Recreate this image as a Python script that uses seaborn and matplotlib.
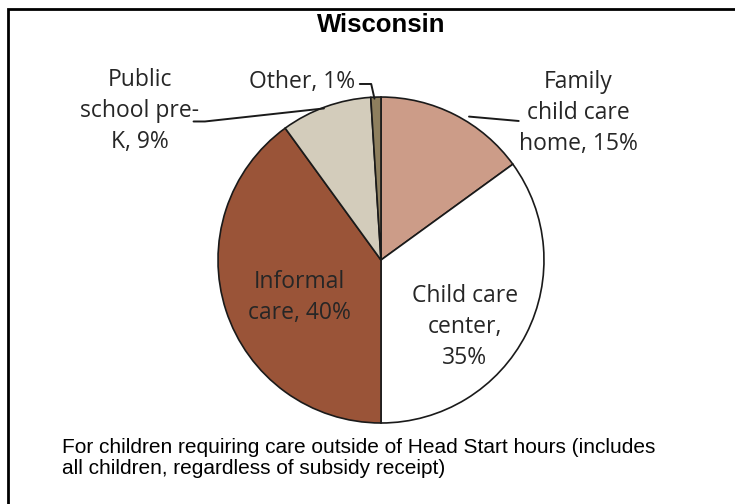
import matplotlib
matplotlib.use("Agg")
import matplotlib.pyplot as plt
import seaborn as sns
from matplotlib.patches import Rectangle

sns.set_theme(style="white")

# data
categories = ["Family child care home", "Child care center", "Informal care",
              "Public school pre-K", "Other"]
shares = [15, 35, 40, 9, 1]
label_texts = ["Family\nchild care\nhome, 15%", "Child care\ncenter,\n35%",
               "Informal\ncare, 40%", "Public\nschool pre-\nK, 9%", "Other, 1%"]
slice_colors = ["#CC9C88", "#FFFFFF", "#9A5438", "#D3CCBB", "#8E7F5E"]

fig = plt.figure(figsize=(7.35, 5.04), dpi=100)

# pie axes: centre ~ (381, 260) px, radius ~163 px
ax = fig.add_axes([0.2966, 0.1607, 0.4435, 0.6468])
ax.pie(shares, colors=slice_colors, startangle=90, counterclock=False,
       radius=1.0, wedgeprops=dict(edgecolor="#1a1a1a", linewidth=1.2))
ax.set_xlim(-1, 1)
ax.set_ylim(-1, 1)
ax.set_aspect("equal")
ax.axis("off")

lab_font = dict(family=["Open Sans", "DejaVu Sans"], fontsize=16.5, color="#262626")
ls = 1.38

# label positions in data units (radius = 1)
ax.text(1.21, 0.90, label_texts[0], ha="center", va="center", linespacing=ls,
        clip_on=False, **lab_font)
ax.text(0.515, -0.41, label_texts[1], ha="center", va="center", linespacing=ls,
        clip_on=False, **lab_font)
ax.text(-0.50, -0.23, label_texts[2], ha="center", va="center", linespacing=ls,
        clip_on=False, **lab_font)
ax.text(-1.48, 0.915, label_texts[3], ha="center", va="center", linespacing=ls,
        clip_on=False, **lab_font)
ax.text(-0.16, 1.09, label_texts[4], ha="right", va="center",
        clip_on=False, **lab_font)

# leader lines
line_kw = dict(color="#1a1a1a", linewidth=1.4, clip_on=False)
ax.plot([0.54, 0.845], [0.88, 0.853], **line_kw)
ax.plot([-1.15, -1.08, -0.35], [0.85, 0.85, 0.93], **line_kw)
ax.plot([-0.13, -0.06, -0.04], [1.08, 1.08, 0.99], **line_kw)

fig.text(0.518, 0.950, "Wisconsin", ha="center", va="center",
         family=["Liberation Sans", "DejaVu Sans"], fontsize=18.5, fontweight="bold",
         color="black")

fig.text(0.084, 0.091,
         "For children requiring care outside of Head Start hours (includes\n"
         "all children, regardless of subsidy receipt)",
         ha="left", va="center", family=["Liberation Sans", "DejaVu Sans"],
         fontsize=15, color="black", linespacing=1.18)

# outer frame (only top and left visible in the crop)
fig.patches.append(Rectangle((8 / 735, -0.1), 1.2, (504 - 9) / 504 + 0.1,
                             transform=fig.transFigure, fill=False,
                             edgecolor="black", linewidth=2.0))

fig.savefig("out.png", dpi=100)
